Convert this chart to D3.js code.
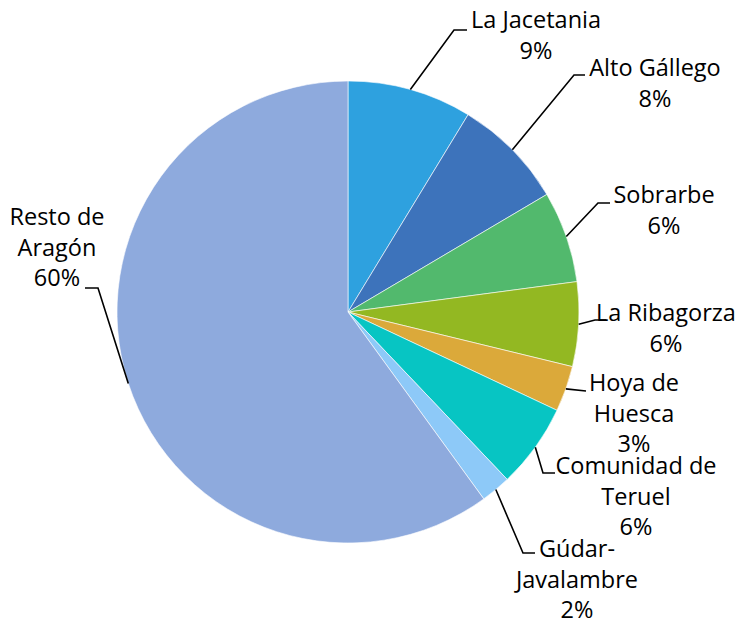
<!DOCTYPE html>
<html>
<head>
<meta charset="utf-8">
<script src="https://cdn.jsdelivr.net/npm/d3@7"></script>
<style>
  body { margin: 0; background: #fff; }
  text { font-family: "Open Sans", "Noto Sans", sans-serif; font-size: 23.5px; fill: #000; }
</style>
</head>
<body>
<svg id="pie" width="748" height="623"></svg>
<script>
// slices, clockwise from 12 o'clock
var comarcas = ["La Jacetania", "Alto Gállego", "Sobrarbe", "La Ribagorza",
                "Hoya de Huesca", "Comunidad de Teruel", "Gúdar-Javalambre", "Resto de Aragón"];
var shares = [8.7, 7.8, 6.4, 5.9, 3.2, 5.9, 2.1, 60.0];
var pctLabels = ["9%", "8%", "6%", "6%", "3%", "6%", "2%", "60%"];
var colors = ["#2ea1df", "#3d73bb", "#52b96d", "#93b822", "#dba93a", "#07c5c3", "#8dc9f8", "#8eaadd"];

// label text broken into lines as in the chart
var labelLines = [
    ["La Jacetania"], ["Alto Gállego"], ["Sobrarbe"], ["La Ribagorza"],
    ["Hoya de", "Huesca"], ["Comunidad de", "Teruel"], ["Gúdar-", "Javalambre"], ["Resto de", "Aragón"]
];

var width = 748, height = 623,
    cx = 348, cy = 312, radius = 231;

// where each label block sits (center x, first baseline) and the elbow of the leader
var labelPos = [
    {x: 536, y: 28, elbow: [454, 30], end: [467, 30]},
    {x: 655, y: 76, elbow: [574, 75], end: [585, 75]},
    {x: 664, y: 203, elbow: [598, 203], end: [610, 203]},
    {x: 666, y: 321, elbow: [595, 320], end: [606, 320]},
    {x: 634, y: 391, elbow: null, end: [586, 391]},
    {x: 636, y: 474, elbow: [543, 473], end: [555, 473]},
    {x: 577, y: 557, elbow: [523, 553], end: [535, 553]},
    {x: 57, y: 225, elbow: [98, 288], end: [85, 288]}
];
var lineH = 30.5;

var svg = d3.select("#pie");
var g = svg.append("g").attr("transform", "translate(" + cx + "," + cy + ")");

var pie = d3.pie().sort(null).value(function(d) { return d; });
var arcs = pie(shares);
var arc = d3.arc().innerRadius(0).outerRadius(radius);

g.selectAll("path.slice")
    .data(arcs)
    .enter()
    .append("path")
    .attr("class", "slice")
    .attr("d", arc)
    .attr("fill", function(d, i) { return colors[i]; })
    .attr("stroke", "#fff")
    .attr("stroke-width", 0.6);

// leader lines start on the arc at the middle of each slice
var leaders = svg.append("g");
arcs.forEach(function(d, i) {
    var a = (d.startAngle + d.endAngle) / 2;
    var p0 = [cx + radius * Math.sin(a), cy - radius * Math.cos(a)];
    var lp = labelPos[i];
    var pts = [p0];
    if (lp.elbow) pts.push(lp.elbow);
    pts.push(lp.end);
    leaders.append("path")
        .attr("d", d3.line()(pts))
        .attr("fill", "none")
        .attr("stroke", "#000")
        .attr("stroke-width", 1.6);
});

// labels
var labels = svg.append("g");
comarcas.forEach(function(name, i) {
    var lp = labelPos[i];
    var lines = labelLines[i].concat([pctLabels[i]]);
    var t = labels.append("text")
        .attr("text-anchor", "middle");
    lines.forEach(function(s, j) {
        t.append("tspan")
            .attr("x", lp.x)
            .attr("y", lp.y + j * lineH)
            .text(s);
    });
});
</script>
</body>
</html>
